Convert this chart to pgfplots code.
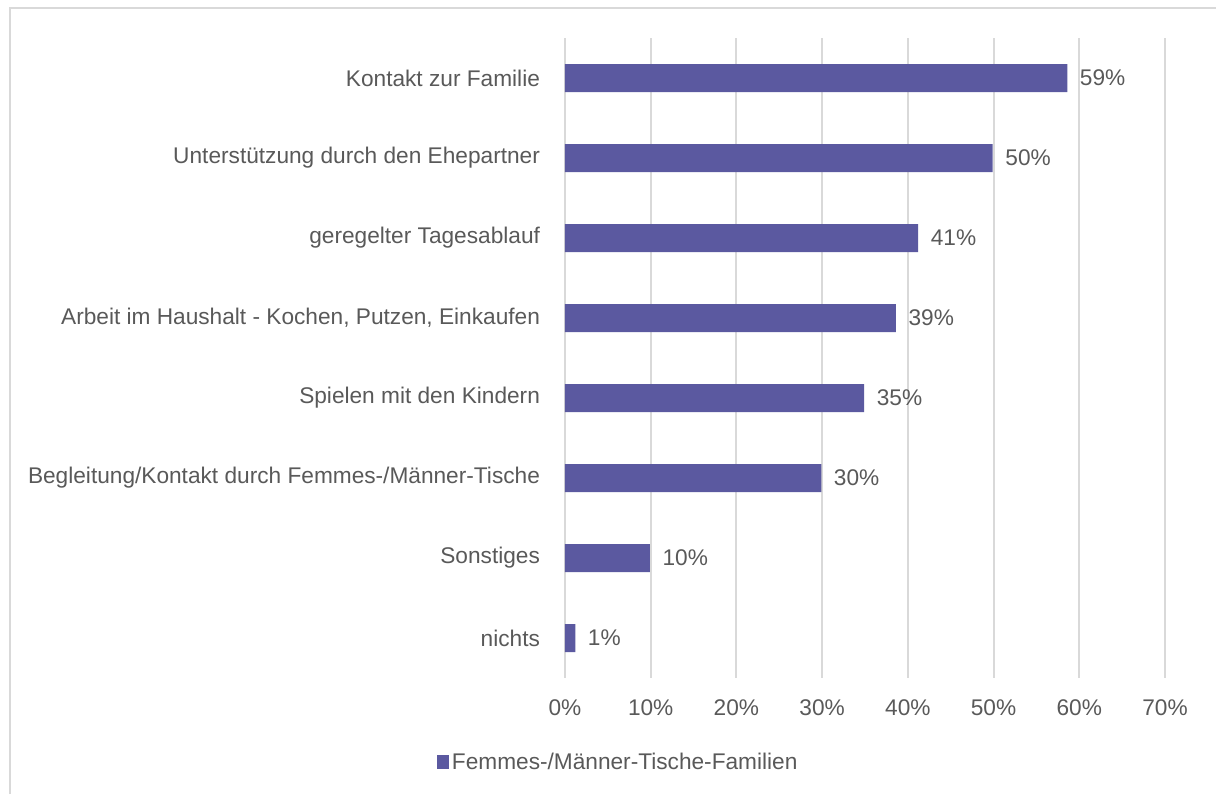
\documentclass[border=0pt]{standalone}
\usepackage{pgfplots}
\pgfplotsset{compat=1.18}
\usepackage{fontspec}
\setmainfont{Liberation Sans}
\definecolor{barc}{RGB}{91,89,160}
\definecolor{txt}{RGB}{89,89,89}
\definecolor{gridc}{RGB}{217,217,217}
\begin{document}
\begin{tikzpicture}
\useasboundingbox (-423.75pt,-87pt) rectangle (488.25pt,508.5pt);
\draw[gridc, line width=1.2pt] (-416.25pt,-87pt) -- (-416.25pt,502.5pt) -- (488.25pt,502.5pt);
\begin{axis}[
  at={(0,0)}, anchor=south west,
  scale only axis, width=450pt, height=480pt,
  xbar, bar width=21pt,
  xmin=0, xmax=70, ymin=-0.5, ymax=7.5,
  y dir=reverse,
  xtick={0,10,...,70},
  xticklabel={\pgfmathprintnumber{\tick}\%},
  /pgf/number format/assume math mode=true,
  ytick={0,...,7},
  yticklabels={Kontakt zur Familie, Unterstützung durch den Ehepartner, geregelter Tagesablauf, Arbeit im Haushalt - Kochen{,} Putzen{,} Einkaufen, Spielen mit den Kindern, Begleitung/Kontakt durch Femmes-/Männer-Tische, Sonstiges, nichts},
  axis line style={draw=none},
  major tick style={draw=none},
  xmajorgrids, grid style={gridc, line width=1.4pt},
  ticklabel style={font=\fontsize{17}{20}\selectfont, text=txt},
  xticklabel style={yshift=-13pt},
  yticklabel style={xshift=-11pt},
  nodes near coords={\pgfmathprintnumber[fixed,precision=0]{\pgfplotspointmeta}\%},
  nodes near coords style={font=\fontsize{17}{20}\selectfont, text=txt, xshift=6pt},
  legend style={at={(-0.2133,-0.13125)}, anchor=west, draw=none, fill=none,
    font=\fontsize{17}{20}\selectfont, text=txt, inner sep=0pt},
  legend image code/.code={\fill[barc] (0pt,-5pt) rectangle (9pt,5pt);},
]
\addplot[fill=barc, draw=none] coordinates {
(58.6,0) (49.9,1) (41.2,2) (38.6,3) (34.9,4) (29.9,5) (9.9,6) (1.2,7)};
\addlegendentry{Femmes-/Männer-Tische-Familien}
\end{axis}
\end{tikzpicture}
\end{document}
